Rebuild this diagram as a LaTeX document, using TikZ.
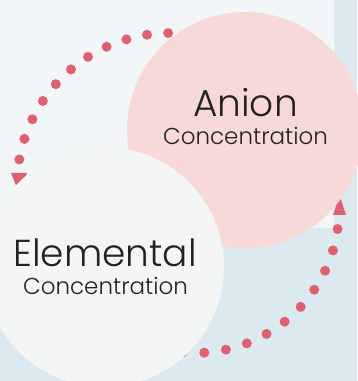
\documentclass[tikz,border=0pt]{standalone}
\usepackage{fontspec}
\setmainfont{Poppins Light}
\usetikzlibrary{calc}
\definecolor{bgblue}{HTML}{DCE9F1}
\definecolor{bglight}{HTML}{F2F6F9}
\definecolor{anionpink}{HTML}{F7D9D7}
\definecolor{elemgrey}{HTML}{F4F6F5}
\definecolor{dotred}{HTML}{E0606F}
\definecolor{txt}{HTML}{222222}
\tikzset{
  bubble/.style={circle, inner sep=0pt, minimum size=#1},
  bigword/.style={anchor=base, text=txt, inner sep=0pt, font=\fontsize{37.5}{37.5}\selectfont},
  smallword/.style={anchor=base, text=txt, inner sep=0pt, font=\fontsize{23}{23}\selectfont},
  dotmark/.style={fill=dotred, draw=none},
  tipmark/.style={fill=dotred, draw=none}
}
\begin{document}
\begin{tikzpicture}[x=1pt,y=1pt]
\useasboundingbox (0,0) rectangle (357,381);
\fill[bgblue] (0,0) rectangle (357,381);
\fill[bglight] (0,153) rectangle (334,381);
% arc centres
\coordinate (c1) at (170,195);
\coordinate (c2) at (195,172);
% dotted arc 1 (top-left, towards Elemental)
\foreach \i in {0,...,10}{
  \fill[dotmark] ($(c1)+({90.7+\i*7.93}:153)$) circle (5);
}
\fill[tipmark] (11,208) -- (27,208) -- (19,188) -- cycle;
% dotted arc 2 (bottom-right, towards Anion)
\foreach \i in {-2,...,10}{
  \fill[dotmark] ($(c2)+({-95+\i*8.7}:144)$) circle (5);
}
\fill[tipmark] (333,166) -- (346,166) -- (339.5,186) -- cycle;
% circles
\node[bubble=236pt, fill=anionpink] (anion) at (245,251) {};
\node[bubble=240pt, fill=elemgrey] (elem) at (104,114) {};
% texts
\node[bigword] (anionT) at (245.5,264) {Anion};
\node[smallword] (anionC) at (245.5,236) {Concentration};
\node[bigword] (elemT) at (105,114) {Elemental};
\node[smallword] (elemC) at (105.5,86) {Concentration};
\end{tikzpicture}
\end{document}
